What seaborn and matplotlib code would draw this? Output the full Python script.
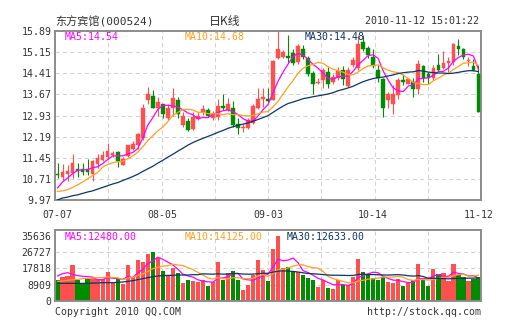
import numpy as np
import pandas as pd
import matplotlib
matplotlib.use("Agg")
import matplotlib.pyplot as plt
import seaborn as sns

# ---------------- data ----------------
tick_idx = [0, 21, 42, 63, 84]
tick_dates = ["07-07", "08-05", "09-03", "10-14", "11-12"]

open_ = [10.87,10.78,10.89,10.91,11.07,11.04,11.04,10.89,11.22,11.38,
         11.48,11.55,11.64,11.20,11.50,11.76,11.90,12.13,13.47,13.61,
         13.18,13.32,12.83,13.18,13.46,12.59,12.74,12.46,12.82,13.07,
         13.14,12.83,12.88,13.25,13.11,13.18,12.62,12.48,12.48,12.66,
         13.20,13.50,13.50,13.49,14.96,14.98,15.03,15.13,14.81,15.26,
         14.95,14.41,14.06,14.17,14.46,14.11,14.25,14.51,13.98,14.69,
         14.60,15.51,15.30,14.98,14.52,14.20,13.47,13.35,13.64,14.17,
         14.05,14.11,13.85,14.66,14.38,14.25,14.71,14.60,14.76,14.81,
         15.37,15.25,14.84,14.67,14.40]
close = [10.83,10.94,10.99,11.26,11.00,10.96,10.96,11.32,11.43,11.54,
         11.68,11.60,11.34,11.42,11.88,11.93,12.27,13.18,13.67,13.20,
         13.39,12.97,13.21,13.56,13.00,12.92,12.42,12.88,12.90,13.17,
         12.90,12.97,13.25,13.19,13.32,12.59,12.48,12.53,12.76,13.28,
         13.52,13.57,13.43,14.84,15.27,15.14,14.96,14.77,15.37,14.99,
         14.40,14.05,14.12,14.51,14.05,14.28,14.48,14.21,14.54,14.89,
         15.42,15.27,15.04,14.67,14.23,13.21,13.67,13.67,14.19,14.09,
         14.20,13.85,14.75,14.25,14.23,14.60,14.52,14.78,14.84,15.42,
         15.25,14.98,14.89,14.52,13.06]
high = [11.26,11.22,11.20,11.57,11.26,11.26,11.41,11.36,11.57,11.67,
        11.96,11.70,11.69,11.49,11.90,12.02,12.31,13.32,13.93,13.84,
        13.59,13.35,13.34,13.88,13.59,13.06,12.83,13.06,13.06,13.29,
        13.18,13.09,13.52,13.68,13.55,13.43,12.83,12.63,12.85,13.32,
        13.88,13.88,13.90,14.87,15.89,15.21,15.74,15.25,15.45,15.41,
        15.02,14.48,14.23,14.60,14.63,14.37,14.63,14.67,14.63,14.98,
        15.74,15.76,15.37,15.25,14.69,14.23,13.74,14.00,14.23,14.40,
        14.23,14.23,14.87,14.71,14.46,14.69,15.10,15.18,14.98,15.48,
        15.62,15.30,14.98,14.90,14.69]
low = [10.74,10.68,10.65,10.74,10.76,10.83,10.84,10.65,11.08,11.32,
       11.41,11.49,11.14,11.18,11.46,11.72,11.76,12.07,13.35,13.18,
       12.92,12.85,12.77,12.92,12.83,12.54,12.39,12.42,12.76,12.95,
       12.88,12.77,12.78,13.11,13.09,12.54,12.27,12.34,12.46,12.62,
       13.17,13.23,13.39,13.46,14.92,14.95,14.81,14.71,14.75,14.90,
       14.32,13.70,14.02,13.90,13.90,14.02,14.17,13.99,13.92,14.63,
       14.53,15.20,14.95,14.60,14.11,12.89,13.21,12.97,13.50,13.99,
       14.03,13.59,13.68,14.11,14.05,14.17,14.49,14.57,14.46,14.69,
       15.04,14.92,14.67,14.49,13.04]
volume = [11389,13226,13593,19655,11389,9368,12124,12675,11756,11756,
          15797,9919,11756,9368,19655,13226,22594,21308,25717,26819,
          23696,16348,13960,18002,15063,9919,11389,10838,10470,11389,
          8082,10287,21308,11572,15063,16348,11389,5878,8817,13960,
          22410,16899,10838,28656,35636,18002,18736,16348,15797,13960,
          12675,11389,7715,11205,7164,6613,11200,8450,8450,13000,
          23000,15800,14000,12700,11300,12800,10287,9552,11900,8082,
          9919,11200,20000,11389,8082,17600,14900,15400,11000,19950,
          13900,13000,10600,11800,13100]

# moving-average values before a full window exists
ma5_head = [10.39, 10.60, 10.74, 10.89]
ma10_head = [10.27, 10.29, 10.33, 10.41, 10.50, 10.60, 10.71, 10.83, 10.93]
ma30_head = [9.97, 10.04, 10.07, 10.12, 10.15, 10.20, 10.25, 10.29, 10.35, 10.41,
             10.47, 10.53, 10.58, 10.65, 10.72, 10.79, 10.87, 10.97, 11.06, 11.15,
             11.26, 11.36, 11.47, 11.57, 11.68, 11.78, 11.89, 11.98, 12.06]
vma5_head = [13593, 14879, 15430, 14511]
vma10_head = [10654, 10838, 11205, 11572, 11756, 12124, 12307, 12491, 12675]
vma30_head = [9552, 9552, 9552, 9552, 9552, 9552, 9552, 9736, 9736, 9919,
              9919, 9919, 10103, 10287, 10654, 11021, 11572, 12124, 12675, 13226,
              13593, 13777, 13960, 13960, 14144, 14144, 14144, 14328, 14328]

price_ticks = ["9.97", "10.71", "11.45", "12.19", "12.93", "13.67", "14.41", "15.15", "15.89"]
vol_ticks = ["0", "8909", "17818", "26727", "35636"]
vol_axis_top = 38942

title_text = "东方宾馆(000524)"
kline_text = "日K线"
time_text = "2010-11-12 15:01:22"
ma_labels = ["MA5:14.54", "MA10:14.68", "MA30:14.48"]
vma_labels = ["MA5:12480.00", "MA10:14125.00", "MA30:12633.00"]
footer_left = "Copyright 2010 QQ.COM"
footer_right = "http://stock.qq.com"

# ---------------- style ----------------
sns.set_style("white")
plt.rcParams['font.family'] = ['DejaVu Sans Mono', 'Noto Sans CJK SC']

RED = "#FF4F4F"
GREEN = "#008C00"
C_MA5 = "#FF00FF"
C_MA10 = "#FFA020"
C_MA30 = "#0D3466"
FRAME = "#8C8C8C"
GRID = "#D2D2D2"
TXT = "#333333"

W, H = 505, 330
def fx(px):
    return px / W
def fy(py):
    return 1 - py / H

fig = plt.figure(figsize=(W / 100, H / 100), dpi=100)
fig.patch.set_facecolor("white")
ax = fig.add_axes([fx(55), fy(200), fx(481) - fx(55), fy(31) - fy(200)])
axv = fig.add_axes([fx(55), fy(300.7), fx(481) - fx(55), fy(230) - fy(300.7)])

o = np.array(open_); c = np.array(close); hi = np.array(high); lo = np.array(low)
v = np.array(volume, dtype=float)
idx = np.arange(len(c))
up = c >= o
cols = np.where(up, RED, GREEN)


def moving(series, n, head):
    s = pd.Series(series, dtype=float).rolling(n).mean()
    s.iloc[:n - 1] = head
    return s.values


# ---------------- grid ----------------
xgrid = np.linspace(-0.5, len(c) - 0.5, 9)[1:-1]
for a in (ax, axv):
    for xg in xgrid:
        a.axvline(xg, color=GRID, lw=0.75, ls=(0, (4, 3)), zorder=0)
for t in price_ticks[1:-1]:
    ax.axhline(float(t), color=GRID, lw=0.75, ls=(0, (4, 3)), zorder=0)
for t in vol_ticks[1:-1]:
    axv.axhline(float(t), color=GRID, lw=0.75, ls=(0, (4, 3)), zorder=0)

# ---------------- candles ----------------
ax.vlines(idx, lo, hi, colors=cols, lw=0.8, zorder=2)
body_h = np.maximum(np.abs(c - o), 0.012)
ax.bar(idx, body_h, bottom=np.minimum(o, c), width=0.74, color=cols,
       edgecolor=cols, linewidth=0.3, zorder=3)

for series, n, head, col in [(c, 5, ma5_head, C_MA5), (c, 10, ma10_head, C_MA10),
                             (c, 30, ma30_head, C_MA30)]:
    sns.lineplot(x=idx, y=moving(series, n, head), ax=ax, color=col, lw=0.9,
                 legend=False, zorder=4)

# ---------------- volume ----------------
axv.bar(idx, v, width=0.84, color=cols, linewidth=0, zorder=2)
for series, n, head, col in [(v, 5, vma5_head, C_MA5), (v, 10, vma10_head, C_MA10),
                             (v, 30, vma30_head, C_MA30)]:
    sns.lineplot(x=idx, y=moving(series, n, head), ax=axv, color=col, lw=0.9,
                 legend=False, zorder=4)

# ---------------- axes ----------------
ax.set_xlim(-0.5, len(c) - 0.5)
ax.set_ylim(float(price_ticks[0]), float(price_ticks[-1]))
ax.set_yticks([float(t) for t in price_ticks])
ax.set_yticklabels(price_ticks)
ax.set_xticks(tick_idx)
ax.set_xticklabels(tick_dates)
axv.set_xlim(-0.5, len(c) - 0.5)
axv.set_ylim(0, vol_axis_top)
axv.set_yticks([float(t) for t in vol_ticks])
axv.set_yticklabels(vol_ticks)
axv.set_xticks([])

for a in (ax, axv):
    a.set_xlabel("")
    a.set_ylabel("")
    a.set_facecolor("white")
    a.grid(False)
    for s in a.spines.values():
        s.set_color(FRAME)
        s.set_linewidth(1.4)
        s.set_visible(True)
    a.tick_params(length=0, labelsize=7.1, colors=TXT)
    a.tick_params(axis="y", pad=2.5)
ax.tick_params(axis="x", pad=7.5)

# ---------------- texts ----------------
fig.text(fx(55), fy(21.5), title_text, size=8, color=TXT, ha="left", va="center",
         family=['DejaVu Sans Mono', 'Noto Sans CJK SC'])
fig.text(fx(225), fy(21.5), kline_text, size=8.6, color=TXT, ha="center", va="center",
         family=['Noto Sans CJK SC'])
fig.text(fx(479), fy(21.5), time_text, size=7.2, color=TXT, ha="right", va="center")

for lab, xpos, col in zip(ma_labels, [65, 185, 305], [C_MA5, C_MA10, C_MA30]):
    fig.text(fx(xpos), fy(37), lab, size=7.1, color=col, ha="left", va="center")
for lab, xpos, col in zip(vma_labels, [65, 185, 287], [C_MA5, C_MA10, C_MA30]):
    fig.text(fx(xpos), fy(237), lab, size=7.1, color=col, ha="left", va="center")

fig.text(fx(55), fy(312), footer_left, size=7.1, color=TXT, ha="left", va="center")
fig.text(fx(481), fy(312), footer_right, size=7.1, color=TXT, ha="right", va="center")

fig.savefig("out.png", dpi=100, facecolor="white")
